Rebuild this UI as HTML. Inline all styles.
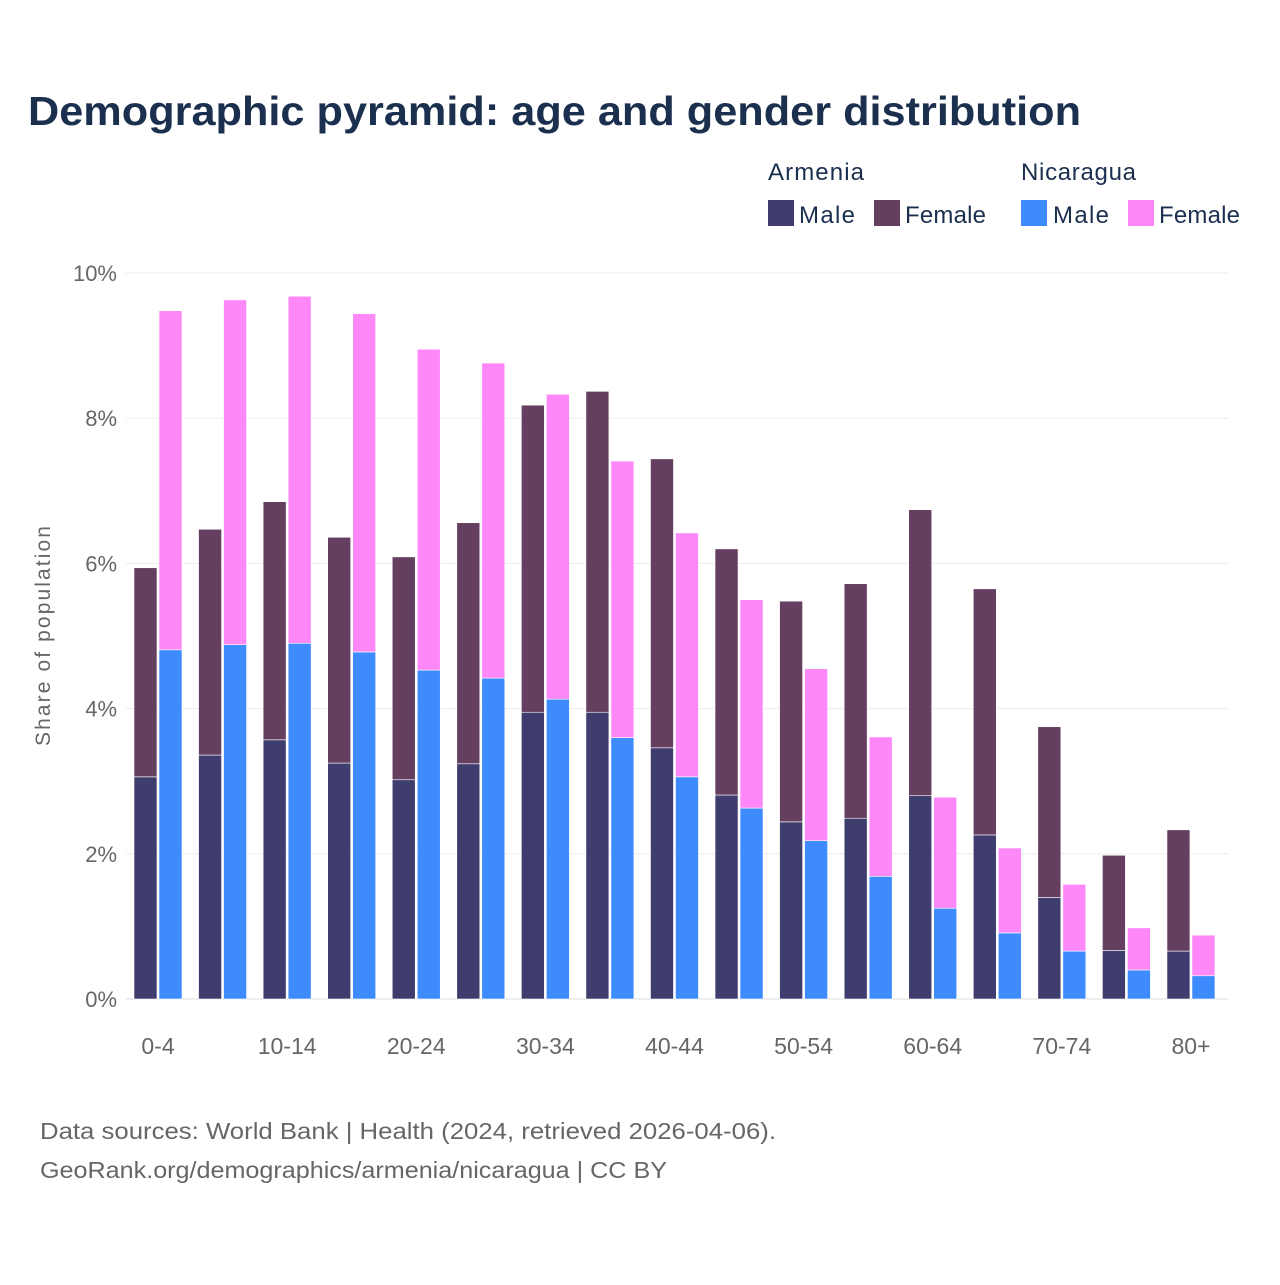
<!DOCTYPE html>
<html><head><meta charset="utf-8"><style>
body{margin:0;background:#fff;}
svg text{font-family:"Liberation Sans",sans-serif;}
</style></head><body>
<svg id="chart" width="1280" height="1280" xmlns="http://www.w3.org/2000/svg">
<text x="28" y="125" font-size="41" font-weight="bold" fill="#1b2f4f" textLength="1053" lengthAdjust="spacingAndGlyphs">Demographic pyramid: age and gender distribution</text>
<g font-size="24" fill="#1b2f4f">
<text x="768" y="180" fill="#1b2f4f" textLength="96">Armenia</text>
<text x="1021" y="180" fill="#1b2f4f" textLength="115">Nicaragua</text>
<rect x="768" y="200" width="26" height="26" fill="#3f3d6e"/>
<text x="799" y="223" fill="#1b2f4f" textLength="56">Male</text>
<rect x="874" y="200" width="26" height="26" fill="#653f5f"/>
<text x="905" y="223" fill="#1b2f4f" textLength="81">Female</text>
<rect x="1021" y="200" width="26" height="26" fill="#3d8bfd"/>
<text x="1053" y="223" fill="#1b2f4f" textLength="56">Male</text>
<rect x="1128" y="200" width="26" height="26" fill="#ff88f8"/>
<text x="1159" y="223" fill="#1b2f4f" textLength="81">Female</text>
</g>
<text transform="translate(50,636) rotate(-90)" text-anchor="middle" font-size="21" fill="#666" textLength="220">Share of population</text>
<g id="grid"></g><g id="bars"></g><g id="xlabels"></g>
<text x="40" y="1139" font-size="23" fill="#666" textLength="736" lengthAdjust="spacingAndGlyphs">Data sources: World Bank | Health (2024, retrieved 2026-04-06).</text>
<text x="40" y="1178" font-size="23" fill="#666" textLength="627" lengthAdjust="spacingAndGlyphs">GeoRank.org/demographics/armenia/nicaragua | CC BY</text>
</svg>
<script>
const cats=["0-4","5-9","10-14","15-19","20-24","25-29","30-34","35-39","40-44","45-49","50-54","55-59","60-64","65-69","70-74","75-79","80+"];
const armMale=[3.06,3.36,3.57,3.25,3.02,3.24,3.95,3.95,3.46,2.81,2.44,2.49,2.80,2.26,1.40,0.67,0.66];
const armTotal=[5.94,6.47,6.85,6.36,6.09,6.56,8.18,8.37,7.44,6.20,5.48,5.72,6.74,5.65,3.75,1.98,2.33];
const nicMale=[4.81,4.88,4.90,4.78,4.53,4.42,4.13,3.60,3.06,2.63,2.18,1.69,1.25,0.91,0.66,0.40,0.32];
const nicTotal=[9.48,9.63,9.68,9.44,8.95,8.76,8.33,7.41,6.42,5.50,4.55,3.61,2.78,2.08,1.58,0.98,0.88];
const yTicks=[0,2,4,6,8,10];
const NS="http://www.w3.org/2000/svg";
const y=v=>999-v*72.6;
const gx=i=>158+i*64.56;
function mk(tag,attrs,parent){const e=document.createElementNS(NS,tag);for(const k in attrs)e.setAttribute(k,attrs[k]);parent.appendChild(e);return e;}
const grid=document.getElementById('grid'),bars=document.getElementById('bars'),xl=document.getElementById('xlabels');
yTicks.forEach(t=>{
 const l=mk('line',{x1:126,x2:1228,y1:y(t),y2:y(t),stroke:t===0?'#ddd':'#ebebeb','stroke-width':1},grid);
 
 
 const tx=mk('text',{x:117,y:y(t)+8,'text-anchor':'end','font-size':22,fill:'#666'},grid);
 tx.textContent=t+'%';
 
 
});
function bar(x,v0,v1,fill,name){
 const r=mk('rect',{x:x,y:y(v1),width:23,height:y(v0)-y(v1),fill:fill,stroke:'#fff','stroke-width':0.6},bars);
 
 
}
cats.forEach((c,i)=>{
 const cx=gx(i);
 bar(cx-24,0,armMale[i],'#3f3d6e','bar-armenia-male');
 bar(cx-24,armMale[i],armTotal[i],'#653f5f','bar-armenia-female');
 bar(cx+1,0,nicMale[i],'#3d8bfd','bar-nicaragua-male');
 bar(cx+1,nicMale[i],nicTotal[i],'#ff88f8','bar-nicaragua-female');
 if(i%2===0){
  const t=mk('text',{x:cx,y:1054,'text-anchor':'middle','font-size':23,fill:'#666'},xl);
  t.textContent=c;
  
  
 }
});
</script>
</body></html>
